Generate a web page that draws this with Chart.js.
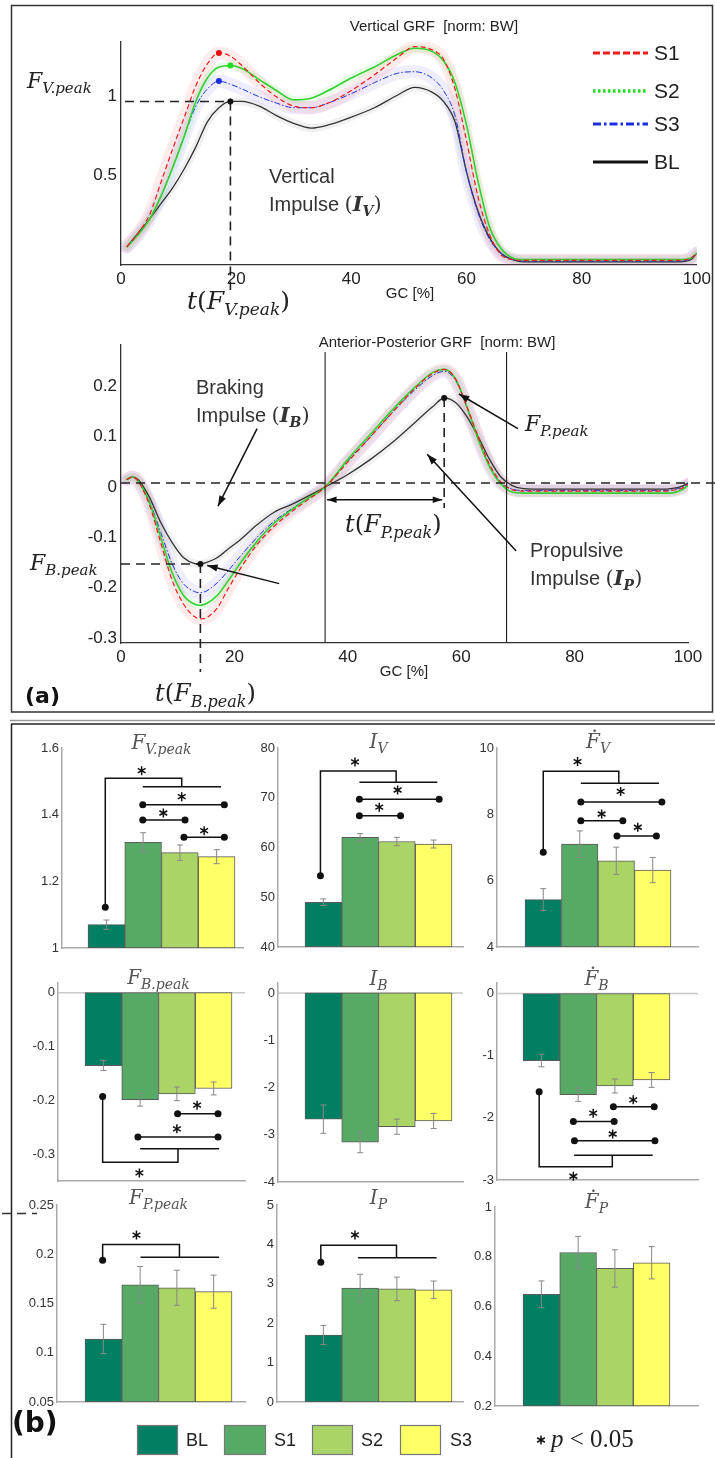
<!DOCTYPE html>
<html><head><meta charset="utf-8">
<script src="https://cdn.jsdelivr.net/npm/chart.js"></script>
<style>
html,body{margin:0;padding:0;background:#fff;}
#page{position:relative;width:715px;height:1458px;overflow:hidden;background:#fff;}
#page canvas{position:absolute;}
</style></head><body><div id="page"></div>
<script>
// ================= DATA =================
// Panel (a) – gait cycle [%] and mean GRF curves (norm: BW)
const gcTicks = [0, 20, 40, 60, 80, 100];
const gcV = [1,3,5,7,9,11,13,15,17,19,21,24,27,30,33,36,40,44,48,51,54,56,58,60,62,64,66,68,70,75,80,85,90,95,97,99,100];
const vGRF_S1 = [0.04,0.13,0.25,0.46,0.67,0.87,1.07,1.21,1.28,1.26,1.20,1.09,1.00,0.94,0.93,0.96,1.04,1.14,1.25,1.32,1.30,1.24,1.05,0.72,0.36,0.12,-0.01,-0.04,-0.045,-0.045,-0.045,-0.045,-0.045,-0.045,-0.045,-0.03,0.0];
const vGRF_S2 = [0.04,0.12,0.22,0.37,0.55,0.75,0.97,1.12,1.19,1.20,1.18,1.11,1.04,0.98,0.99,1.04,1.12,1.19,1.27,1.31,1.29,1.23,1.09,0.82,0.46,0.17,0.03,-0.03,-0.04,-0.04,-0.04,-0.04,-0.04,-0.04,-0.04,-0.03,0.0];
const vGRF_S3 = [0.04,0.12,0.22,0.37,0.55,0.75,0.94,1.05,1.10,1.08,1.05,1.00,0.96,0.93,0.93,0.96,1.02,1.09,1.15,1.16,1.12,1.04,0.88,0.52,0.26,0.09,0.0,-0.04,-0.05,-0.05,-0.05,-0.05,-0.05,-0.05,-0.05,-0.035,0.0];
const vGRF_BL = [0.04,0.13,0.22,0.32,0.42,0.54,0.68,0.84,0.93,0.97,0.97,0.94,0.88,0.83,0.80,0.82,0.87,0.93,1.01,1.06,1.03,0.97,0.84,0.52,0.27,0.10,0.0,-0.04,-0.055,-0.055,-0.055,-0.055,-0.055,-0.055,-0.055,-0.04,0.0];
const vTicks = [0.5, 1];

const gcAP = [1,2,3,5,7,9,11,13,14,15,17,19,21,24,27,30,33,36,40,44,48,52,55,57,59,61,63,65,67,69,71,75,80,85,90,95,97,99,100];
const apGRF_S1 = [0.015,0.02,0.012,-0.035,-0.11,-0.185,-0.232,-0.258,-0.262,-0.26,-0.24,-0.2,-0.163,-0.114,-0.078,-0.05,-0.025,0.0,0.05,0.10,0.15,0.198,0.226,0.234,0.215,0.16,0.10,0.045,0.01,-0.005,-0.008,-0.008,-0.008,-0.008,-0.008,-0.008,-0.007,-0.002,0.005];
const apGRF_S2 = [0.015,0.02,0.012,-0.03,-0.10,-0.17,-0.215,-0.233,-0.235,-0.232,-0.215,-0.185,-0.152,-0.108,-0.072,-0.046,-0.022,0.0,0.055,0.105,0.155,0.2,0.228,0.234,0.215,0.16,0.095,0.04,0.006,-0.01,-0.012,-0.012,-0.012,-0.012,-0.012,-0.012,-0.012,-0.005,0.003];
const apGRF_S3 = [0.015,0.02,0.012,-0.028,-0.09,-0.152,-0.192,-0.208,-0.21,-0.207,-0.19,-0.165,-0.138,-0.10,-0.068,-0.044,-0.022,0.0,0.052,0.10,0.15,0.195,0.222,0.23,0.212,0.158,0.095,0.042,0.008,-0.004,-0.007,-0.007,-0.007,-0.007,-0.007,-0.007,-0.006,0.0,0.006];
const apGRF_BL = [0.015,0.02,0.015,-0.02,-0.07,-0.11,-0.14,-0.152,-0.153,-0.15,-0.14,-0.122,-0.105,-0.075,-0.05,-0.035,-0.018,0.0,0.025,0.055,0.09,0.13,0.16,0.177,0.168,0.14,0.10,0.055,0.02,0.003,-0.003,-0.004,-0.004,-0.004,-0.004,-0.004,-0.003,0.002,0.008];
const apTicks = [-0.3, -0.2, -0.1, 0, 0.1, 0.2];
const phaseBounds = [36, 68];      // vertical separators [% GC]

// Panel (b) – group means and standard errors
const groups = ['BL', 'S1', 'S2', 'S3'];
const FVpeak_mean = [1.07, 1.317, 1.286, 1.274];  const FVpeak_err = [0.014, 0.029, 0.023, 0.021];
const IV_mean     = [49.0, 62.05, 61.2, 60.7];    const IV_err     = [0.67, 0.74, 0.84, 0.8];
const FVdot_mean  = [5.43, 7.10, 6.60, 6.32];     const FVdot_err  = [0.33, 0.40, 0.41, 0.38];
const FBpeak_mean = [-0.1355, -0.199, -0.188, -0.178]; const FBpeak_err = [0.0093, 0.0118, 0.0127, 0.012];
const IB_mean     = [-2.67, -3.16, -2.83, -2.71]; const IB_err     = [0.30, 0.22, 0.16, 0.16];
const FBdot_mean  = [-1.078, -1.627, -1.487, -1.39]; const FBdot_err = [0.10, 0.108, 0.113, 0.12];
const FPpeak_mean = [0.114, 0.169, 0.166, 0.162]; const FPpeak_err = [0.0149, 0.0186, 0.0178, 0.0168];
const IP_mean     = [1.70, 2.89, 2.87, 2.85];     const IP_err     = [0.24, 0.35, 0.30, 0.22];
const FPdot_mean  = [0.649, 0.817, 0.753, 0.776]; const FPdot_err  = [0.054, 0.065, 0.075, 0.065];

const ticks_FVpeak = [1, 1.2, 1.4, 1.6];
const ticks_IV     = [40, 50, 60, 70, 80];
const ticks_FVdot  = [4, 6, 8, 10];
const ticks_FBpeak = [-0.3, -0.2, -0.1, 0];
const ticks_IB     = [-4, -3, -2, -1, 0];
const ticks_FBdot  = [-3, -2, -1, 0];
const ticks_FPpeak = [0.05, 0.1, 0.15, 0.2, 0.25];
const ticks_IP     = [0, 1, 2, 3, 4, 5];
const ticks_FPdot  = [0.2, 0.4, 0.6, 0.8, 1];

// ================= STYLE / HELPERS =================
Chart.defaults.font.family = '"Liberation Sans", Arial, sans-serif';
Chart.defaults.color = '#222';
const SANS = '"Liberation Sans", Arial, sans-serif';
const MATH = '"DejaVu Serif", "Liberation Serif", serif';
const groupColors = ['#007f63', '#57aa66', '#aad466', '#ffff66'];
const lineStyles = {
  S1: {color:'#f21c1c', dash:[5,3], width:1.2, band:'rgba(255,70,70,0.10)', bandW:13},
  S2: {color:'#33d033', dash:[], width:1.6, band:'rgba(40,220,40,0.10)', bandW:8},
  S3: {color:'#2233dd', dash:[6,2,1.5,2], width:1.0, band:'rgba(70,70,255,0.09)', bandW:13},
  BL: {color:'#333333', dash:[], width:1.3, band:'rgba(0,0,0,0.06)', bandW:8}
};
const legendStyles = {
  S1: {color:'#f21c1c', dash:[7,3], width:3},
  S2: {color:'#22dd22', dash:[2.5,2.5], width:3.5},
  S3: {color:'#1a2ee0', dash:[8,3,2.5,3], width:3},
  BL: {color:'#111111', dash:[], width:3}
};
const page = document.getElementById('page');
function mkCanvas(l, t, w, h) {
  const c = document.createElement('canvas');
  c.width = w; c.height = h;
  c.style.left = l + 'px'; c.style.top = t + 'px';
  c.style.width = w + 'px'; c.style.height = h + 'px';
  page.appendChild(c); return c;
}
function mtext(ctx, x, y, size, parts, align, color) {
  const sub = Math.round(size * 0.68);
  const F = {
    i: `italic ${size}px ${MATH}`, r: `${size}px ${MATH}`,
    s: `italic ${sub}px ${MATH}`, bi: `italic bold ${size}px ${MATH}`,
    bs: `italic bold ${sub}px ${MATH}`, sans: `${size}px ${SANS}`, d: `italic ${size}px ${MATH}`
  };
  let w = 0;
  const ws = parts.map(([t, k]) => { ctx.font = F[k]; const m = ctx.measureText(t).width; w += m; return m; });
  let cx = align === 'center' ? x - w / 2 : align === 'right' ? x - w : x;
  ctx.save(); ctx.fillStyle = color || '#222'; ctx.textBaseline = 'alphabetic'; ctx.textAlign = 'left';
  parts.forEach(([t, k], i) => {
    ctx.font = F[k];
    const dy = (k === 's' || k === 'bs') ? size * 0.24 : 0;
    ctx.fillText(t, cx, y + dy);
    if (k === 'd') { ctx.beginPath(); ctx.arc(cx + ws[i] * 0.62, y - size * 0.86, size * 0.065, 0, Math.PI * 2); ctx.fill(); }
    cx += ws[i];
  });
  ctx.restore();
}
function seg(ctx, pts, color, lw, dash) {
  ctx.save(); ctx.strokeStyle = color || '#111'; ctx.lineWidth = lw || 1.5; ctx.setLineDash(dash || []);
  ctx.beginPath(); pts.forEach((p, i) => i ? ctx.lineTo(p[0], p[1]) : ctx.moveTo(p[0], p[1])); ctx.stroke(); ctx.restore();
}
function dot(ctx, x, y, r, color) { ctx.save(); ctx.fillStyle = color || '#111'; ctx.beginPath(); ctx.arc(x, y, r, 0, Math.PI * 2); ctx.fill(); ctx.restore(); }
function star(ctx, x, y, r) {
  ctx.save(); ctx.strokeStyle = '#111'; ctx.lineWidth = 1.5; ctx.beginPath();
  for (let k = 0; k < 3; k++) { const a = Math.PI / 2 + k * Math.PI / 3; ctx.moveTo(x - r * Math.cos(a), y - r * Math.sin(a)); ctx.lineTo(x + r * Math.cos(a), y + r * Math.sin(a)); }
  ctx.stroke(); ctx.restore();
}
function arrow(ctx, x1, y1, x2, y2, both, head) {
  head = head || 11;
  ctx.save(); ctx.strokeStyle = '#111'; ctx.fillStyle = '#111'; ctx.lineWidth = 1.5;
  ctx.beginPath(); ctx.moveTo(x1, y1); ctx.lineTo(x2, y2); ctx.stroke();
  const hd = (xa, ya, xb, yb) => { const a = Math.atan2(yb - ya, xb - xa); ctx.beginPath(); ctx.moveTo(xb, yb);
    ctx.lineTo(xb - head * Math.cos(a - 0.33), yb - head * Math.sin(a - 0.33)); ctx.lineTo(xb - head * Math.cos(a + 0.33), yb - head * Math.sin(a + 0.33)); ctx.closePath(); ctx.fill(); };
  hd(x1, y1, x2, y2); if (both) hd(x2, y2, x1, y1);
  ctx.restore();
}
function txt(ctx, s, x, y, font, align, base, color) {
  ctx.save(); ctx.font = font; ctx.fillStyle = color || '#222'; ctx.textAlign = align || 'left'; ctx.textBaseline = base || 'middle'; ctx.fillText(s, x, y); ctx.restore();
}
function extremum(xs, ys, lo, hi, wantMax) {
  let best = null;
  xs.forEach((x, i) => { if (x >= lo && x <= hi && (best === null || (wantMax ? ys[i] > ys[best] : ys[i] < ys[best]))) best = i; });
  return {x: xs[best], y: ys[best]};
}
function lineSets(xs, map) {
  const out = [];
  Object.entries(map).forEach(([name, ys], k) => {
    const st = lineStyles[name]; const pts = xs.map((x, i) => ({x, y: ys[i]}));
    out.push({label: name, data: pts, borderColor: st.color, borderDash: st.dash, borderWidth: st.width, showLine: true, pointRadius: 0, cubicInterpolationMode: 'monotone', order: 1 + k});
    out.push({label: name + ' band', data: pts, borderColor: st.band, borderWidth: st.bandW, showLine: true, pointRadius: 0, cubicInterpolationMode: 'monotone', order: 20 + k, borderCapStyle: 'round', borderJoinStyle: 'round'});
  });
  return out;
}
function lineChart(canvasRect, plot, yr, yTicks, datasets, anno) {
  const [cl, ct, cw, ch] = canvasRect; const [pl, pt, pr, pb] = plot;
  const W = 40, H = 28;
  return new Chart(mkCanvas(cl, ct, cw, ch), {
    type: 'scatter',
    data: {datasets},
    options: {
      responsive: false, animation: false, devicePixelRatio: 1,
      layout: {padding: {left: pl - cl - W, top: pt - ct, right: cl + cw - pr, bottom: ct + ch - pb - H}},
      plugins: {legend: {display: false}, tooltip: {enabled: false}},
      scales: {
        x: {type: 'linear', min: 0, max: 100, afterFit(s) { s.height = H; },
            afterBuildTicks(s) { s.ticks = gcTicks.map(v => ({value: v})); },
            grid: {display: false, drawTicks: false}, border: {display: true, color: '#333', width: 1.3},
            ticks: {font: {size: 17}, color: '#222', padding: 4, maxRotation: 0, autoSkip: false, callback: v => String(v)}},
        y: {type: 'linear', min: yr[0], max: yr[1], afterFit(s) { s.width = W; },
            afterBuildTicks(s) { s.ticks = yTicks.map(v => ({value: v})); },
            grid: {display: false, drawTicks: false}, border: {display: true, color: '#333', width: 1.3},
            ticks: {font: {size: 17}, color: '#222', padding: 4, autoSkip: false, callback: v => String(v)}}
      }
    },
    plugins: [{id: 'annoA', afterDraw: anno}]
  });
}

// ================= PANEL (a): Vertical GRF =================
lineChart([0, 0, 715, 330], [121, 42, 700, 265], [-0.075, 1.35], vTicks,
  lineSets(gcV, {S1: vGRF_S1, S2: vGRF_S2, S3: vGRF_S3, BL: vGRF_BL}),
  function (chart) {
    const {ctx, scales: {x, y}} = chart;
    const X = v => x.getPixelForValue(v), Y = v => y.getPixelForValue(v);
    const pk = extremum(gcV, vGRF_BL, 0, 30, true);
    seg(ctx, [[x.left + 4, Y(pk.y)], [X(pk.x), Y(pk.y)]], '#222', 1.6, [9, 6]);
    seg(ctx, [[X(pk.x), Y(pk.y)], [X(pk.x), 290]], '#222', 1.6, [9, 6]);
    [[vGRF_S1, '#e81010'], [vGRF_S2, '#22dd22'], [vGRF_S3, '#1a2ee0'], [vGRF_BL, '#111']].forEach(([ys, c]) => {
      const p = extremum(gcV, ys, 0, 30, true); dot(ctx, X(p.x), Y(p.y), 3, c);
    });
    txt(ctx, 'Vertical GRF  [norm: BW]', 434, 27, `15px ${SANS}`, 'center');
    txt(ctx, 'GC [%]', 410, 294, `15px ${SANS}`, 'center');
    mtext(ctx, 27, 88, 22, [['F', 'i'], ['V.peak', 's']], 'left');
    mtext(ctx, 187, 309, 25, [['t', 'i'], ['(', 'r'], ['F', 'i'], ['V.peak', 's'], [')', 'r']], 'left');
    txt(ctx, 'Vertical', 269, 183, `20px ${SANS}`, 'left', 'alphabetic', '#333');
    txt(ctx, 'Impulse ', 269, 211, `20px ${SANS}`, 'left', 'alphabetic', '#333');
    ctx.font = `20px ${SANS}`; const iw = ctx.measureText('Impulse ').width;
    mtext(ctx, 269 + iw, 211, 21, [['(', 'r'], ['I', 'bi'], ['V', 'bs'], [')', 'r']], 'left', '#333');
    // legend
    const ly = [53, 91, 124, 162];
    ['S1', 'S2', 'S3', 'BL'].forEach((n, i) => {
      const st = legendStyles[n];
      seg(ctx, [[593, ly[i]], [648, ly[i]]], st.color, st.width, st.dash);
      txt(ctx, n, 654, ly[i] + 1, `21px ${SANS}`, 'left', 'middle', '#222');
    });
  });

// ================= PANEL (a): Anterior-Posterior GRF =================
lineChart([0, 330, 715, 385], [121, 342, 688, 643], [-0.31, 0.284], apTicks,
  lineSets(gcAP, {S1: apGRF_S1, S2: apGRF_S2, S3: apGRF_S3, BL: apGRF_BL}),
  function (chart) {
    const {ctx, scales: {x, y}} = chart;
    const X = v => x.getPixelForValue(v), Y = v => y.getPixelForValue(v);
    const o = 330; // canvas top offset in page
    phaseBounds.forEach(b => seg(ctx, [[X(b), 352 - o], [X(b), y.bottom]], '#222', 1.1));
    seg(ctx, [[x.left, Y(0.008)], [715, Y(0.008)]], '#222', 1.6, [9, 6]);
    const mn = extremum(gcAP, apGRF_BL, 0, 30, false);
    const mx = extremum(gcAP, apGRF_BL, 36, 68, true);
    seg(ctx, [[x.left, Y(mn.y)], [X(mn.x), Y(mn.y)]], '#222', 1.6, [9, 6]);
    seg(ctx, [[X(mn.x), Y(mn.y)], [X(mn.x), 672 - o]], '#222', 1.6, [9, 6]);
    seg(ctx, [[X(mx.x), Y(mx.y)], [X(mx.x), 508 - o]], '#222', 1.6, [9, 6]);
    dot(ctx, X(mn.x), Y(mn.y), 3, '#111'); dot(ctx, X(mx.x), Y(mx.y), 3, '#111');
    arrow(ctx, X(phaseBounds[0]) + 2, Y(-0.025), X(mx.x) - 2, Y(-0.025), true, 10);
    arrow(ctx, X(24.0), Y(0.116), X(17.1), Y(-0.038));
    arrow(ctx, X(27.9), Y(-0.192), X(15.2), Y(-0.156));
    arrow(ctx, X(70.0), Y(0.116), X(59.6), Y(0.185));
    arrow(ctx, X(69.7), Y(-0.127), X(54.0), Y(0.065));
    txt(ctx, 'Anterior-Posterior GRF  [norm: BW]', 437, 343 - o, `15px ${SANS}`, 'center');
    txt(ctx, 'GC [%]', 404, 672 - o, `15px ${SANS}`, 'center');
    txt(ctx, 'Braking', 196, 394 - o, `20px ${SANS}`, 'left', 'alphabetic', '#333');
    ctx.font = `20px ${SANS}`; const iw = ctx.measureText('Impulse ').width;
    txt(ctx, 'Impulse ', 196, 422 - o, `20px ${SANS}`, 'left', 'alphabetic', '#333');
    mtext(ctx, 196 + iw, 422 - o, 21, [['(', 'r'], ['I', 'bi'], ['B', 'bs'], [')', 'r']], 'left', '#333');
    txt(ctx, 'Propulsive', 530, 557 - o, `20px ${SANS}`, 'left', 'alphabetic', '#333');
    txt(ctx, 'Impulse ', 530, 585 - o, `20px ${SANS}`, 'left', 'alphabetic', '#333');
    mtext(ctx, 530 + iw, 585 - o, 21, [['(', 'r'], ['I', 'bi'], ['P', 'bs'], [')', 'r']], 'left', '#333');
    mtext(ctx, 30, 570 - o, 22, [['F', 'i'], ['B.peak', 's']], 'left');
    mtext(ctx, 525, 431 - o, 22, [['F', 'i'], ['P.peak', 's']], 'left');
    mtext(ctx, 155, 701 - o, 24, [['t', 'i'], ['(', 'r'], ['F', 'i'], ['B.peak', 's'], [')', 'r']], 'left');
    mtext(ctx, 345, 532 - o, 24, [['t', 'i'], ['(', 'r'], ['F', 'i'], ['P.peak', 's'], [')', 'r']], 'left');
    txt(ctx, '(a)', 25, 697 - o, `bold 22px "DejaVu Sans", sans-serif`, 'left', 'middle', '#111');
  });

// ================= PANEL (b): bar charts =================
const barSpecs = [
  {plot:[62,748,243,948], bars:[88,235], yr:[1,1.6], ticks:ticks_FVpeak, mean:FVpeak_mean, err:FVpeak_err,
   title:[['F','i'],['V.peak','s']], titleY:749,
   annos:[{t:'br', x0:0.97, y0:1.122, yb:1.509, xm:3.05, ys:1.484, xs1:1.99, xs2:4.12, sx:1.96, sy:1.532},
          {t:'pr', x1:1.99, x2:4.21, y:1.43, sx:3.05, sy:1.454},
          {t:'pr', x1:1.99, x2:3.14, y:1.384, sx:2.55, sy:1.405},
          {t:'pr', x1:3.11, x2:4.21, y:1.332, sx:3.66, sy:1.352}]},
  {plot:[278,748,463,947], bars:[305,452], yr:[40,80], ticks:ticks_IV, mean:IV_mean, err:IV_err,
   title:[['I','i'],['V','s']], titleY:748,
   annos:[{t:'br', x0:0.92, y0:54.3, yb:75.4, xm:2.98, ys:73.1, xs1:1.98, xs2:4.1, sx:1.86, sy:77.2},
          {t:'pr', x1:1.98, x2:4.15, y:69.7, sx:3.02, sy:71.56},
          {t:'pr', x1:1.98, x2:3.1, y:66.4, sx:2.52, sy:68.1}]},
  {plot:[497,748,698,947], bars:[525,671], yr:[4,10], ticks:ticks_FVdot, mean:FVdot_mean, err:FVdot_err,
   title:[['F','d'],['V','s']], titleY:748,
   annos:[{t:'br', x0:1.0, y0:6.86, yb:9.3, xm:3.07, ys:8.94, xs1:2.03, xs2:4.17, sx:1.94, sy:9.59},
          {t:'pr', x1:2.03, x2:4.25, y:8.37, sx:3.12, sy:8.69},
          {t:'pr', x1:2.03, x2:3.18, y:7.81, sx:2.6, sy:8.01},
          {t:'pr', x1:3.02, x2:4.1, y:7.35, sx:3.59, sy:7.61}]},
  {plot:[58,983,245,1181], bars:[85,232], yr:[-0.35,0.018], ticks:ticks_FBpeak, mean:FBpeak_mean, err:FBpeak_err,
   title:[['F','i'],['B.peak','s']], titleY:984,
   annos:[{t:'br', x0:0.98, y0:-0.193, yb:-0.315, xm:3.03, ys:-0.29, xs1:2.0, xs2:4.15, sx:1.98, sy:-0.335},
          {t:'pr', x1:1.94, x2:4.12, y:-0.268, sx:3.0, sy:-0.253},
          {t:'pr', x1:3.02, x2:4.12, y:-0.225, sx:3.55, sy:-0.209}]},
  {plot:[278,983,463,1182], bars:[305,452], yr:[-4,0.21], ticks:ticks_IB, mean:IB_mean, err:IB_err,
   title:[['I','i'],['B','s']], titleY:985, annos:[]},
  {plot:[497,983,698,1180], bars:[523,670], yr:[-3,0.17], ticks:ticks_FBdot, mean:FBdot_mean, err:FBdot_err,
   title:[['F','d'],['B','s']], titleY:985,
   annos:[{t:'br', x0:0.94, y0:-1.58, yb:-2.785, xm:2.93, ys:-2.6, xs1:1.89, xs2:4.03, sx:1.87, sy:-2.94},
          {t:'pr', x1:1.87, x2:2.98, y:-2.06, sx:2.41, sy:-1.925},
          {t:'pr', x1:2.96, x2:4.07, y:-1.82, sx:3.5, sy:-1.71},
          {t:'pr', x1:1.9, x2:4.09, y:-2.37, sx:2.94, sy:-2.26}]},
  {plot:[57,1205,245,1402], bars:[85,232], yr:[0.05,0.25], ticks:ticks_FPpeak, mean:FPpeak_mean, err:FPpeak_err,
   title:[['F','i'],['P.peak','s']], titleY:1204,
   annos:[{t:'br', x0:0.98, y0:0.194, yb:0.21, xm:3.07, ys:0.197, xs1:2.01, xs2:4.15, sx:1.9, sy:0.2195}]},
  {plot:[277,1205,463,1402], bars:[305,452], yr:[0,5], ticks:ticks_IP, mean:IP_mean, err:IP_err,
   title:[['I','i'],['P','s']], titleY:1204,
   annos:[{t:'br', x0:0.93, y0:3.55, yb:3.98, xm:2.99, ys:3.66, xs1:1.94, xs2:4.08, sx:1.86, sy:4.24}]},
  {plot:[495,1207,698,1406], bars:[523,670], yr:[0.2,1], ticks:ticks_FPdot, mean:FPdot_mean, err:FPdot_err,
   title:[['F','d'],['P','s']], titleY:1208, annos:[]}
];

barSpecs.forEach(sp => {
  const [pl, pt, pr, pb] = sp.plot; const [bl, br] = sp.bars;
  const unit = (br - bl) / groups.length; const c1 = bl + unit / 2;
  const xmin = 1 - (c1 - pl) / unit, xmax = 1 + (pr - c1) / unit;
  const W = 40;
  const cl = pl - 52, ct = pt - 30, cw = pr - pl + 64, ch = pb - pt + 46;
  const baseVal = sp.yr[0] > 0 ? sp.yr[0] : 0;
  new Chart(mkCanvas(cl, ct, cw, ch), {
    type: 'bar',
    data: {datasets: [{
      label: 'groups', data: groups.map((g, i) => ({x: i + 1, y: sp.mean[i]})),
      backgroundColor: groupColors, borderColor: '#5a5a5a', borderWidth: 1, borderSkipped: false,
      barPercentage: 1, categoryPercentage: 1, base: baseVal
    }]},
    options: {
      responsive: false, animation: false, devicePixelRatio: 1,
      layout: {padding: {left: 52 - W, top: 30, right: 12, bottom: 16}},
      plugins: {legend: {display: false}, tooltip: {enabled: false}},
      scales: {
        x: {type: 'linear', min: xmin, max: xmax, offset: false, afterFit(s) { s.height = 0; },
            ticks: {display: false}, grid: {display: false, drawTicks: false}, border: {display: true, color: '#aaa', width: 1.5}},
        y: {type: 'linear', min: sp.yr[0], max: sp.yr[1], afterFit(s) { s.width = W; },
            afterBuildTicks(s) { s.ticks = sp.ticks.map(v => ({value: v})); },
            grid: {display: false, drawTicks: false}, border: {display: true, color: '#aaa', width: 1.5},
            ticks: {font: {size: 13}, color: '#333', padding: 3, autoSkip: false, callback: v => String(v)}}
      }
    },
    plugins: [{
      id: 'annoB',
      beforeDatasetsDraw(chart) {
        const {ctx, scales: {x, y}} = chart;
        if (sp.yr[0] < 0 && sp.yr[1] > 0) seg(ctx, [[x.left, y.getPixelForValue(0)], [x.right, y.getPixelForValue(0)]], '#c8c8c8', 1.5);
      },
      afterDatasetsDraw(chart) {
        const {ctx, scales: {x, y}} = chart;
        const X = v => x.getPixelForValue(v), Y = v => y.getPixelForValue(v);
        sp.mean.forEach((m, i) => {
          const px = X(i + 1), a = Y(m + sp.err[i]), b = Y(m - sp.err[i]);
          seg(ctx, [[px, a], [px, b]], '#888', 1);
          seg(ctx, [[px - 3, a], [px + 3, a]], '#888', 1);
          seg(ctx, [[px - 3, b], [px + 3, b]], '#888', 1);
        });
        sp.annos.forEach(a => {
          if (a.t === 'br') {
            seg(ctx, [[X(a.x0), Y(a.y0)], [X(a.x0), Y(a.yb)], [X(a.xm), Y(a.yb)], [X(a.xm), Y(a.ys)]], '#111', 1.5);
            seg(ctx, [[X(a.xs1), Y(a.ys)], [X(a.xs2), Y(a.ys)]], '#111', 1.5);
            dot(ctx, X(a.x0), Y(a.y0), 3.5);
          } else {
            seg(ctx, [[X(a.x1), Y(a.y)], [X(a.x2), Y(a.y)]], '#111', 1.5);
            dot(ctx, X(a.x1), Y(a.y), 3.5); dot(ctx, X(a.x2), Y(a.y), 3.5);
          }
          star(ctx, X(a.sx), Y(a.sy), 4.5);
        });
        mtext(ctx, X(2.5), sp.titleY - ct, 20, sp.title, 'center', '#555');
      }
    }]
  });
});

// ================= frames, panel (b) legend, labels =================
(function () {
  const c = mkCanvas(0, 0, 715, 1458); const ctx = c.getContext('2d');
  ctx.strokeStyle = '#333'; ctx.lineWidth = 1.5;
  ctx.strokeRect(11.5, 5.5, 701, 706.5);
  seg(ctx, [[10, 720.5], [715, 720.5]], '#999', 1.5);
  seg(ctx, [[11, 724], [715, 724]], '#222', 1.5);
  seg(ctx, [[11.5, 724], [11.5, 1458]], '#222', 1.5);
  seg(ctx, [[2, 1213.5], [37, 1213.5]], '#333', 1.5, [9, 6]);
  const boxes = [[137, 40], [224, 41], [312, 40], [400, 40]];
  const labX = [186, 274, 361, 450];
  groups.forEach((g, i) => {
    ctx.fillStyle = groupColors[i]; ctx.fillRect(boxes[i][0], 1425, boxes[i][1], 29);
    ctx.strokeStyle = '#777'; ctx.lineWidth = 1.2; ctx.strokeRect(boxes[i][0] + 0.5, 1425.5, boxes[i][1], 29);
    txt(ctx, g, labX[i], 1441, `18px ${SANS}`, 'left', 'middle', '#222');
  });
  star(ctx, 541, 1440, 4.5);
  ctx.save(); ctx.fillStyle = '#222'; ctx.textBaseline = 'alphabetic';
  ctx.font = `italic 25px "Liberation Serif", serif`; ctx.fillText('p', 551, 1447);
  const pw = ctx.measureText('p').width;
  ctx.font = `25px "Liberation Serif", serif`; ctx.fillText(' < 0.05', 551 + pw, 1447);
  ctx.restore();
  txt(ctx, '(b)', 12, 1425, `bold 28px "DejaVu Sans", sans-serif`, 'left', 'middle', '#111');
})();
</script></body></html>
